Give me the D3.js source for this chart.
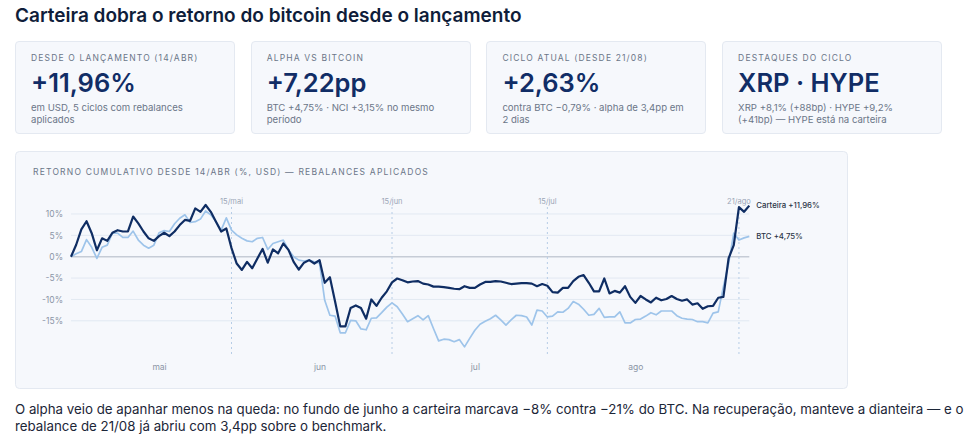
<!DOCTYPE html>
<html>
<head>
<meta charset="utf-8">
<script src="https://cdn.jsdelivr.net/npm/d3@7"></script>
<style>
  body { margin: 0; width: 975px; height: 445px; background: #fff; font-family: Inter, "Noto Sans", sans-serif; position: relative; overflow: hidden; }
  .title { position: absolute; left: 15px; top: 4px; font-size: 19px; font-weight: 600; color: #0f1d3a; }
  .card { position: absolute; top: 41px; width: 220px; height: 93px; box-sizing: border-box; padding: 11px 15px; background: #f6f8fc; border: 1px solid #e4e9f1; border-radius: 4px; }
  .card .lab { font-size: 8.5px; letter-spacing: 1.15px; color: #6b7688; text-transform: uppercase; height: 13px; }
  .card .val { font-size: 25.5px; font-weight: 600; color: #112d66; margin-top: 2px; line-height: 30px; }
  .card .sub { font-size: 9.6px; color: #6b7688; line-height: 11.7px; margin-top: 4px; }
  .foot { position: absolute; left: 15px; top: 401px; width: 955px; font-size: 13.3px; line-height: 17px; color: #1c2638; }
  svg { position: absolute; left: 0; top: 0; }
</style>
</head>
<body>
<script>
// retorno cumulativo diario (%), 14/abr a 23/ago
const startDate = new Date(2025, 3, 14);
const endDate = new Date(2025, 7, 23);
const portfolio = [
  0, 2.8, 6.4, 8.3, 5.5, 1.5, 4.3, 3.7, 5.6, 6.2,
  5.9, 5.9, 9.4, 7.8, 5.9, 4.3, 3.7, 4.8, 5.6, 4.8,
  5.9, 7.4, 8.6, 8.4, 11.3, 10.5, 12.1, 10.5, 8.2, 5.9,
  6.6, 2.0, -1.6, -3.1, -1.2, -2.7, -0.4, 1.8, -1.4, 1.7,
  0.8, 3.1, 1.6, -1.2, -3.0, -1.4, -0.8, -1.6, -0.8, -6.1,
  -4.8, -10.5, -16.3, -16.3, -12.0, -11.4, -12.0, -14.5, -10.0, -11.5,
  -9.6, -8.1, -6.0, -5.1, -5.5, -6.0, -5.8, -5.7, -6.3, -6.5,
  -7.0, -7.0, -7.1, -7.3, -7.5, -7.6, -6.9, -7.3, -7.3, -6.5,
  -5.9, -5.9, -5.7, -5.8, -6.1, -6.4, -6.3, -6.2, -6.2, -6.3,
  -6.9, -6.4, -6.8, -8.3, -8.4, -7.3, -7.3, -5.7, -4.7, -4.3,
  -6.1, -8.1, -8.1, -5.1, -8.6, -8.0, -8.4, -6.9, -9.4, -10.8,
  -9.2, -10.0, -10.7, -9.6, -10.2, -9.9, -9.2, -9.9, -10.3, -10.0,
  -11.2, -10.9, -12.2, -11.6, -11.5, -9.6, -9.4, -0.4, 2.7, 11.6,
  10.5, 11.96
];
const btc = [
  0, 0.7, 1.2, 4.0, 2.2, -0.4, 2.2, 2.7, 5.5, 5.5,
  4.5, 4.5, 6.0, 3.9, 2.7, 2.0, 2.7, 5.6, 6.1, 5.9,
  7.7, 9.0, 9.8, 8.0, 8.2, 8.8, 10.7, 9.8, 8.2, 6.2,
  9.1, 6.2, 5.1, 4.3, 3.7, 3.5, 4.3, 4.5, 1.7, 3.1,
  3.5, 3.9, 1.6, 0, -0.8, -1.0, -0.8, -1.2, -1.5, -10.2,
  -13.7, -13.9, -17.8, -17.8, -14.9, -15.0, -16.9, -17.1, -14.4, -14.3,
  -13.1, -11.8, -10.8, -11.7, -13.4, -15.2, -14.5, -13.8, -14.8, -13.8,
  -16.8, -19.7, -19.3, -19.4, -19.9, -19.4, -21.1, -19.1, -17.2, -15.8,
  -15.1, -14.5, -13.7, -14.8, -16.0, -14.8, -13.7, -13.8, -14.1, -16.0,
  -12.5, -12.7, -14.1, -13.9, -12.9, -13.0, -12.1, -10.5, -11.1, -12.3,
  -13.7, -13.5, -12.1, -14.2, -14.1, -14.1, -12.9, -15.5, -15.5, -14.7,
  -14.6, -13.9, -13.1, -13.6, -12.7, -12.7, -12.7, -13.8, -14.4, -14.6,
  -14.7, -15.2, -15.2, -15.5, -13.2, -12.9, -7.0, -1.6, 5.5, 3.9,
  4.4, 4.75
];
const yTicks = [-15, -10, -5, 0, 5, 10];
const markers = [
  { date: new Date(2025, 4, 15), label: "15/mai" },
  { date: new Date(2025, 5, 15), label: "15/jun" },
  { date: new Date(2025, 6, 15), label: "15/jul" },
  { date: new Date(2025, 7, 21), label: "21/ago" }
];
const endLabels = ["Carteira +11,96%", "BTC +4,75%"];

const cards = [
  { lab: "Desde o lançamento (14/abr)", val: "+11,96%", sub: "em USD, 5 ciclos com rebalances aplicados" },
  { lab: "Alpha vs bitcoin", val: "+7,22pp", sub: "BTC +4,75% · NCI +3,15% no mesmo período" },
  { lab: "Ciclo atual (desde 21/08)", val: "+2,63%", sub: "contra BTC −0,79% · alpha de 3,4pp em 2 dias" },
  { lab: "Destaques do ciclo", val: "XRP · HYPE", sub: "XRP +8,1% (+88bp) · HYPE +9,2% (+41bp) — HYPE está na carteira" }
];

const body = d3.select("body");
body.append("div").attr("class", "title")
    .text("Carteira dobra o retorno do bitcoin desde o lançamento");

cards.forEach((c, i) => {
    const card = body.append("div").attr("class", "card")
        .style("left", (15 + i * 235.7) + "px");
    card.append("div").attr("class", "lab").text(c.lab);
    card.append("div").attr("class", "val").text(c.val);
    card.append("div").attr("class", "sub").text(c.sub);
});

body.append("div").attr("class", "foot")
    .text("O alpha veio de apanhar menos na queda: no fundo de junho a carteira marcava −8% contra −21% do BTC. Na recuperação, manteve a dianteira — e o rebalance de 21/08 já abriu com 3,4pp sobre o benchmark.");

const svg = body.append("svg").attr("width", 975).attr("height", 445);

svg.append("rect")
    .attr("x", 15.5).attr("y", 151.5)
    .attr("width", 832).attr("height", 237)
    .attr("rx", 4)
    .attr("fill", "#f6f8fc").attr("stroke", "#e4e9f1");

svg.append("text")
    .attr("x", 33).attr("y", 175)
    .attr("font-size", 8.5).attr("letter-spacing", 1.2)
    .attr("fill", "#6b7688")
    .text("RETORNO CUMULATIVO DESDE 14/ABR (%, USD) — REBALANCES APLICADOS");

const dates = d3.timeDay.range(startDate, d3.timeDay.offset(endDate, 1));

const x = d3.scaleTime()
    .domain([startDate, endDate])
    .range([71, 749.3]);

const y = d3.scaleLinear()
    .domain([-23, 13.5])
    .range([355, 199]);

const pt = d3.timeFormatLocale({
    dateTime: "%d/%m/%Y %H:%M:%S", date: "%d/%m/%Y", time: "%H:%M:%S",
    periods: ["AM", "PM"],
    days: ["domingo", "segunda", "terça", "quarta", "quinta", "sexta", "sábado"],
    shortDays: ["dom", "seg", "ter", "qua", "qui", "sex", "sáb"],
    months: ["janeiro", "fevereiro", "março", "abril", "maio", "junho", "julho", "agosto", "setembro", "outubro", "novembro", "dezembro"],
    shortMonths: ["jan", "fev", "mar", "abr", "mai", "jun", "jul", "ago", "set", "out", "nov", "dez"]
});

// grid
svg.append("g")
    .selectAll("line")
    .data(yTicks)
    .join("line")
    .attr("x1", x(startDate)).attr("x2", x(endDate))
    .attr("y1", d => y(d)).attr("y2", d => y(d))
    .attr("stroke", d => d === 0 ? "#c6ccd6" : "#e2e9f2")
    .attr("stroke-width", d => d === 0 ? 1.4 : 1);

const yAxis = svg.append("g")
    .attr("transform", "translate(66,0)")
    .call(d3.axisLeft(y).tickValues(yTicks).tickSize(0).tickFormat(d => `${d}%`));
yAxis.select(".domain").remove();
yAxis.selectAll("text")
    .attr("font-family", "Inter, sans-serif").attr("font-size", 8.5).attr("fill", "#8b95a6");

const xAxis = svg.append("g")
    .attr("transform", "translate(0,361)")
    .call(d3.axisBottom(x).ticks(d3.timeMonth.every(1)).tickSize(0).tickFormat(pt.format("%b")));
xAxis.select(".domain").remove();
xAxis.selectAll("text")
    .attr("font-family", "Inter, sans-serif").attr("font-size", 8.5).attr("fill", "#8b95a6");

// marcadores de rebalance
const mk = svg.append("g").selectAll("g").data(markers).join("g");
mk.append("line")
    .attr("x1", d => x(d.date)).attr("x2", d => x(d.date))
    .attr("y1", 207).attr("y2", 356)
    .attr("stroke", "#b7cde6").attr("stroke-width", 1)
    .attr("stroke-dasharray", "2,3");
mk.append("text")
    .attr("x", d => x(d.date)).attr("y", 204)
    .attr("text-anchor", "middle")
    .attr("font-size", 7.5).attr("fill", "#9ba6b7")
    .text(d => d.label);

const line = d3.line()
    .x((d, i) => x(dates[i]))
    .y(d => y(d));

svg.append("path").datum(btc)
    .attr("d", line)
    .attr("fill", "none").attr("stroke", "#9ec4ea")
    .attr("stroke-width", 1.7).attr("stroke-linejoin", "round");

svg.append("path").datum(portfolio)
    .attr("d", line)
    .attr("fill", "none").attr("stroke", "#0f2d63")
    .attr("stroke-width", 2.2).attr("stroke-linejoin", "round");

const last = dates.length - 1;
svg.append("g").selectAll("text")
    .data([portfolio[last], btc[last]])
    .join("text")
    .attr("x", x(dates[last]) + 7)
    .attr("y", d => y(d))
    .attr("dy", "0.35em")
    .attr("font-size", 7.8).attr("font-weight", 500).attr("fill", "#2a3446")
    .text((d, i) => endLabels[i]);
</script>
</body>
</html>
